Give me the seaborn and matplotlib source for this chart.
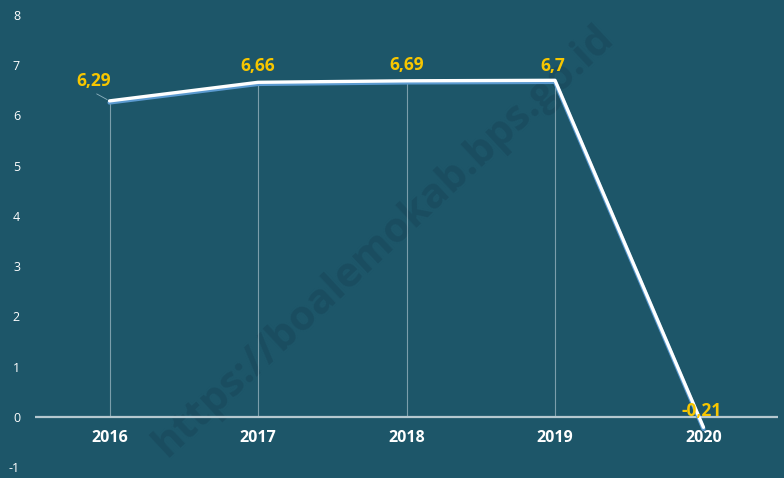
import numpy as np
import pandas as pd
import matplotlib
matplotlib.use("Agg")
import matplotlib.pyplot as plt
import seaborn as sns

# data
years = ["2016", "2017", "2018", "2019", "2020"]
growth = [6.29, 6.66, 6.69, 6.7, -0.21]
labels = ["6,29", "6,66", "6,69", "6,7", "-0,21"]
yticks = [-1, 0, 1, 2, 3, 4, 5, 6, 7, 8]

bg = "#1d5669"
yellow = "#f7c600"

sns.set_style("white")
plt.rcParams["font.family"] = ["Open Sans", "DejaVu Sans"]

df = pd.DataFrame({"year": years, "growth": growth})
df["pos"] = np.arange(len(df))

fig = plt.figure(figsize=(7.84, 4.78), dpi=100)
fig.patch.set_facecolor(bg)
ax = fig.add_axes([0.045, 0.023, 0.947, 0.9456])
ax.set_facecolor(bg)

# watermark
ax.text(0.47, 0.5, "https://boalemokab.bps.go.id", transform=ax.transAxes,
        rotation=43, fontsize=30, fontweight="bold", color="#1a4d60",
        ha="center", va="center", zorder=0)

# drop lines
ax.vlines(df["pos"][:-1], 0, df["growth"][:-1], color="#c9dbe2", lw=0.8, alpha=0.55, zorder=1)

# zero line
ax.axhline(0, color="#b5c8cf", lw=1.6, zorder=2)

# shadow + line
sns.lineplot(data=df, x="pos", y="growth", ax=ax, color="#5b9ad0", lw=3.0,
             zorder=3, legend=False)
ax.lines[-1].set_transform(ax.lines[-1].get_transform() +
                           matplotlib.transforms.ScaledTranslation(0, -1.2 / 72, fig.dpi_scale_trans))
sns.lineplot(data=df, x="pos", y="growth", ax=ax, color="white", lw=2.4,
             zorder=4, legend=False)

# value labels
offsets = [(-11.5, 14.5), (0, 11.5), (0, 11.5), (-1.5, 10.5), (-1.5, 11.5)]
for i, (v, lab) in enumerate(zip(df["growth"], labels)):
    dx, dy = offsets[i]
    ax.annotate(lab, (i, v), xytext=(dx, dy), textcoords="offset points",
                ha="center", va="center", color=yellow, fontsize=12.5,
                fontweight="bold", zorder=5)
# leader for first label
ax.annotate("", (0, growth[0]), xytext=(-11, 6), textcoords="offset points",
            arrowprops=dict(arrowstyle="-", color="#8fb3c0", lw=0.6))

# year labels
for i, y in enumerate(years):
    ax.text(i, -0.42, y, ha="center", va="center", color="white",
            fontsize=11.5, fontweight="bold")

ax.set_xlim(-0.5, 4.5)
ax.set_ylim(-1.0, 8.0)
ax.set_yticks(yticks)
ax.set_yticklabels([str(t) for t in yticks], color="white", fontsize=9)
ax.tick_params(axis="y", length=0, pad=11)
ax.set_xticks([])
ax.set_xlabel("")
ax.set_ylabel("")
for s in ax.spines.values():
    s.set_visible(False)

fig.savefig("out.png", dpi=100, facecolor=bg)
